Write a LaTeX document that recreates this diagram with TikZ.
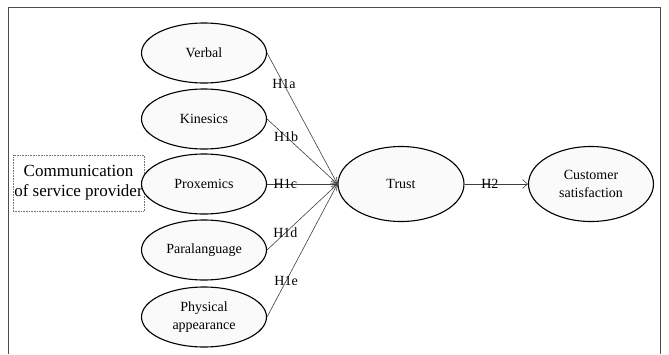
\documentclass[tikz,border=0pt]{standalone}
\usepackage{fontspec}
\setmainfont{Liberation Serif}
\usetikzlibrary{shapes.geometric,arrows.meta}
\begin{document}
\begin{tikzpicture}[x=1pt,y=-1pt,
  oval/.style={ellipse, draw=black, line width=1.1pt, fill=gray!4, minimum width=125pt, minimum height=60pt, inner sep=0pt, align=center, font=\fontsize{14}{17.5}\selectfont},
  bigoval/.style={oval, minimum width=126pt, minimum height=75pt},
  conn/.style={draw=black!75, line width=0.6pt, -{Straight Barb[length=5pt,width=9pt]}},
  lbl/.style={font=\fontsize{14}{16}\selectfont, inner sep=0pt},
  commbox/.style={draw=black!55, densely dotted, line width=0.6pt, minimum width=131pt, minimum height=56pt, inner sep=0pt, align=center, font=\fontsize{17}{20}\selectfont}
]
\useasboundingbox (0,0) rectangle (669,354);
\draw[black!70, line width=0.8pt] (8,354) -- (8,7.5) -- (660.5,7.5) -- (660.5,354);

\node[commbox] (comm) at (78.5,183) {Communication\\of service provider};

\node[oval] (verbal) at (204,53) {Verbal};
\node[oval] (kin) at (204,119) {Kinesics};
\node[oval] (prox) at (204,184) {Proxemics};
\node[oval] (para) at (204,250) {Paralanguage};
\node[oval] (phys) at (204,317) {Physical\\appearance};
\node[bigoval] (trust) at (401,184) {Trust};
\node[bigoval, minimum width=125pt] (cs) at (591,184) {Customer\\satisfaction};

\draw[conn] (verbal.east) -- node[lbl, pos=0.24] {H1a} (trust.west);
\draw[conn] (kin.east) -- node[lbl, pos=0.27] {H1b} (trust.west);
\draw[conn] (prox.east) -- node[lbl, pos=0.26] {H1c} (trust.west);
\draw[conn] (para.east) -- node[lbl, pos=0.26] {H1d} (trust.west);
\draw[conn] (phys.east) -- node[lbl, pos=0.27] {H1e} (trust.west);
\draw[conn] (trust.east) -- node[lbl, pos=0.4] {H2} (cs.west);
\end{tikzpicture}
\end{document}
